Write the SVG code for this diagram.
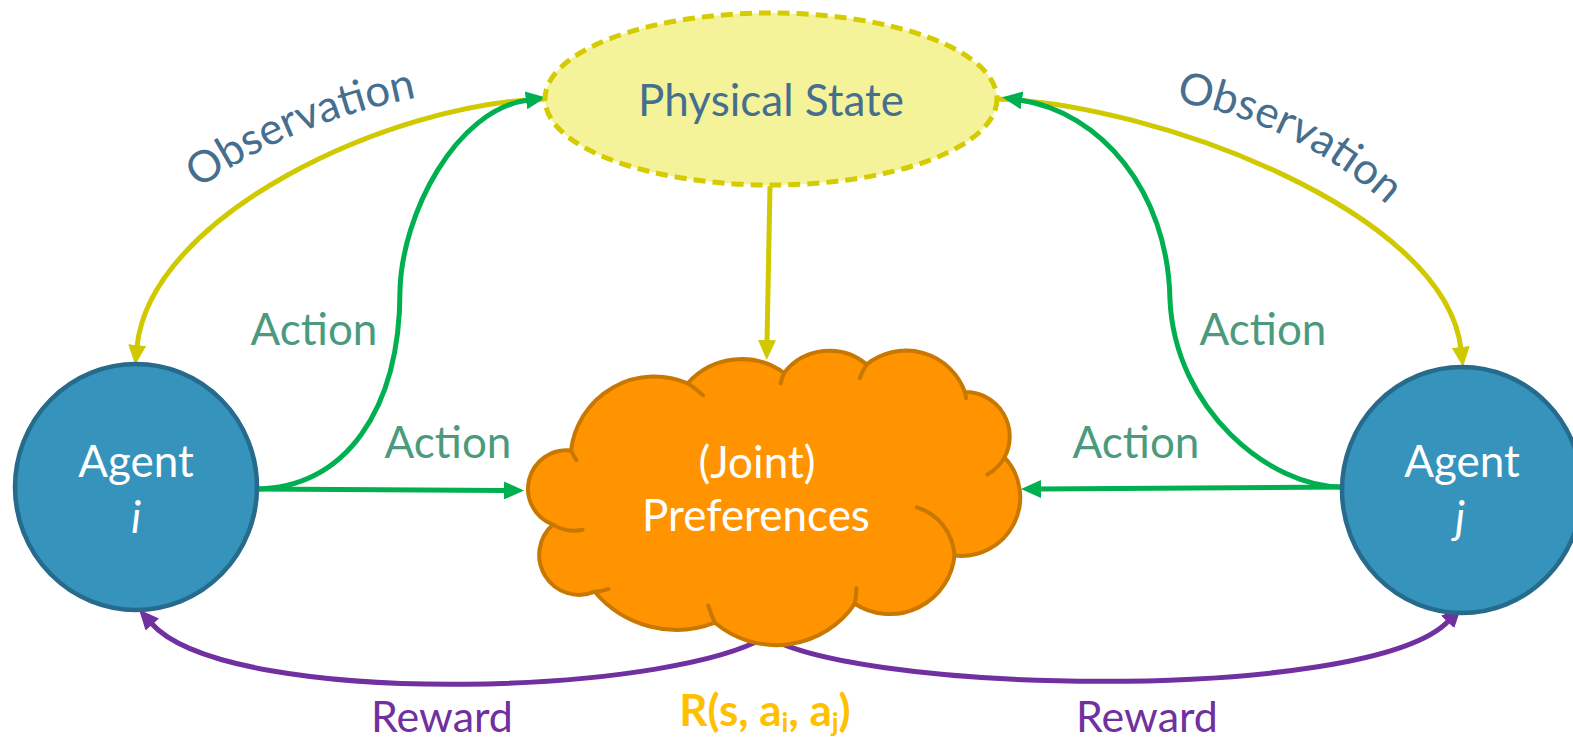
<svg xmlns="http://www.w3.org/2000/svg" width="1573" height="739" viewBox="0 0 1573 739">
  <style>
    text { font-family: Lato, "Open Sans", "DejaVu Sans", sans-serif; font-size: 44px; }
    .edge { fill: none; stroke-width: 5; }
    .yel { stroke: #D0C900; }
    .grn { stroke: #00B050; }
    .pur { stroke: #7030A0; }
    .lbl-obs { fill: #466F8F; }
    .lbl-act { fill: #4C9A7E; }
    .lbl-rew { fill: #7030A0; font-size: 43px; }
    .agent { fill: #3593BC; stroke: #266A8C; stroke-width: 4.5; }
    .white { fill: #FFFFFF; text-anchor: middle; }
    .mid { text-anchor: middle; }
  </style>
  <defs>
    <marker id="ah-yel" markerUnits="userSpaceOnUse" viewBox="0 0 20 18" markerWidth="20" markerHeight="18" refX="2" refY="9" orient="auto">
      <path d="M0,0 L20,9 L0,18 z" fill="#D0C900"/>
    </marker>
    <marker id="ah-grn" markerUnits="userSpaceOnUse" viewBox="0 0 20 18" markerWidth="20" markerHeight="18" refX="2" refY="9" orient="auto">
      <path d="M0,0 L20,9 L0,18 z" fill="#00B050"/>
    </marker>
    <marker id="ah-pur" markerUnits="userSpaceOnUse" viewBox="0 0 20 18" markerWidth="20" markerHeight="18" refX="2" refY="9" orient="auto">
      <path d="M0,0 L20,9 L0,18 z" fill="#7030A0"/>
    </marker>
    <path id="obs-left-base" d="M 188,197 Q 285,122 430,95"/>
    <path id="obs-right-base" d="M 1163,100 Q 1295,118 1397,214"/>
  </defs>

  <!-- connectors -->
  <g id="connectors">
    <path class="edge yel" d="M 545,99 C 390,103 150,215 137,347" marker-end="url(#ah-yel)"/>
    <path class="edge yel" d="M 997,99 C 1150,103 1445,210 1461,349" marker-end="url(#ah-yel)"/>
    <path class="edge yel" d="M 770,186 L 767,342" marker-end="url(#ah-yel)"/>
    <path class="edge grn" d="M 255,489 C 345,489 400,410 400,290 C 402,215 455,110 528,100" marker-end="url(#ah-grn)"/>
    <path class="edge grn" d="M 255,489 L 506,490.5" marker-end="url(#ah-grn)"/>
    <path class="edge grn" d="M 1342,487 C 1270,487 1175,410 1170,300 C 1168,190 1100,112 1020,100" marker-end="url(#ah-grn)"/>
    <path class="edge grn" d="M 1342,487 L 1039,489" marker-end="url(#ah-grn)"/>
    <path class="edge pur" d="M 775,630 C 700,695 230,712 151,623" marker-end="url(#ah-pur)"/>
    <path class="edge pur" d="M 758,630 C 830,695 1370,705 1449,620.5" marker-end="url(#ah-pur)"/>
  </g>

  <!-- connector labels -->
  <g id="labels">
    <text class="lbl-obs"><textPath href="#obs-left-base" startOffset="50%" text-anchor="middle">Observation</textPath></text>
    <text class="lbl-obs"><textPath href="#obs-right-base" startOffset="50%" text-anchor="middle">Observation</textPath></text>
    <text class="lbl-act mid" x="314" y="345">Action</text>
    <text class="lbl-act mid" x="448" y="458">Action</text>
    <text class="lbl-act mid" x="1263" y="345">Action</text>
    <text class="lbl-act mid" x="1136" y="458">Action</text>
    <text class="lbl-rew mid" x="442" y="732">Reward</text>
    <text class="lbl-rew mid" x="1147" y="732">Reward</text>
    <text class="mid" x="765" y="726" fill="#FFC000" font-weight="bold" font-size="46">R(s, a<tspan font-size="27" dy="6">i</tspan><tspan dy="-6">, a</tspan><tspan font-size="27" dy="6">j</tspan><tspan dy="-6">)</tspan></text>
  </g>

  <!-- physical state -->
  <g id="physical-state">
    <ellipse cx="771" cy="99" rx="226" ry="86" fill="#F5F39A" stroke="#D4CC00" stroke-width="5" stroke-dasharray="12 7"/>
    <text class="mid" x="771" y="116" fill="#466F8F">Physical State</text>
  </g>

  <!-- joint preferences cloud -->
  <g id="preferences">
    <path d="M 553,524.6 A 38.4 38.4 0 0 1 571,450.5 A 84 84 0 0 1 687.7,383.4 A 72 72 0 0 1 784,373 A 57.5 57.5 0 0 1 866.7,364.4 A 62.6 62.6 0 0 1 964.9,392 A 44.5 44.5 0 0 1 1004.5,457.4 A 58.6 58.6 0 0 1 954.5,555.5 A 65 65 0 0 1 854.7,603.8 A 95 95 0 0 1 715,622.7 A 107 107 0 0 1 594.7,591.7 A 40 40 0 0 1 553,524.6 Z" fill="#FF9400" stroke="#C87800" stroke-width="4" stroke-linejoin="round"/>
    <path d="M 687.7,383.4 A 84 84 0 0 1 703,395.4 M 784,373 A 57.5 57.5 0 0 0 780.6,383.4 M 866.7,364.4 A 62.6 62.6 0 0 0 859.8,378.2 M 964.9,392 A 62.6 62.6 0 0 1 966,398 M 1004.5,457.4 A 44.5 44.5 0 0 1 987.3,474.6 M 954.5,555.5 A 53.5 53.5 0 0 0 916.7,507.3 M 854.7,603.8 A 95 95 0 0 0 856.4,588.3 M 715,622.7 A 95 95 0 0 1 708.3,605.5 M 594.7,591.7 A 40 40 0 0 0 608.5,589 M 553,524.6 A 40 40 0 0 0 582.6,529.7 M 571,450.5 A 84 84 0 0 0 576.4,460.2" fill="none" stroke="#C87800" stroke-width="4" stroke-linecap="round"/>
    <text class="white" x="757" y="478">(Joint)</text>
    <text class="white" x="756" y="531">Preferences</text>
  </g>

  <!-- agents -->
  <g id="agent-i">
    <ellipse class="agent" cx="136" cy="487" rx="121" ry="123"/>
    <text class="white" x="136" y="477">Agent</text>
    <text class="white" x="136" y="533" font-style="italic">i</text>
  </g>
  <g id="agent-j">
    <ellipse class="agent" cx="1462" cy="490" rx="120" ry="123"/>
    <text class="white" x="1462" y="477">Agent</text>
    <text class="white" x="1460" y="533" font-style="italic">j</text>
  </g>
</svg>
